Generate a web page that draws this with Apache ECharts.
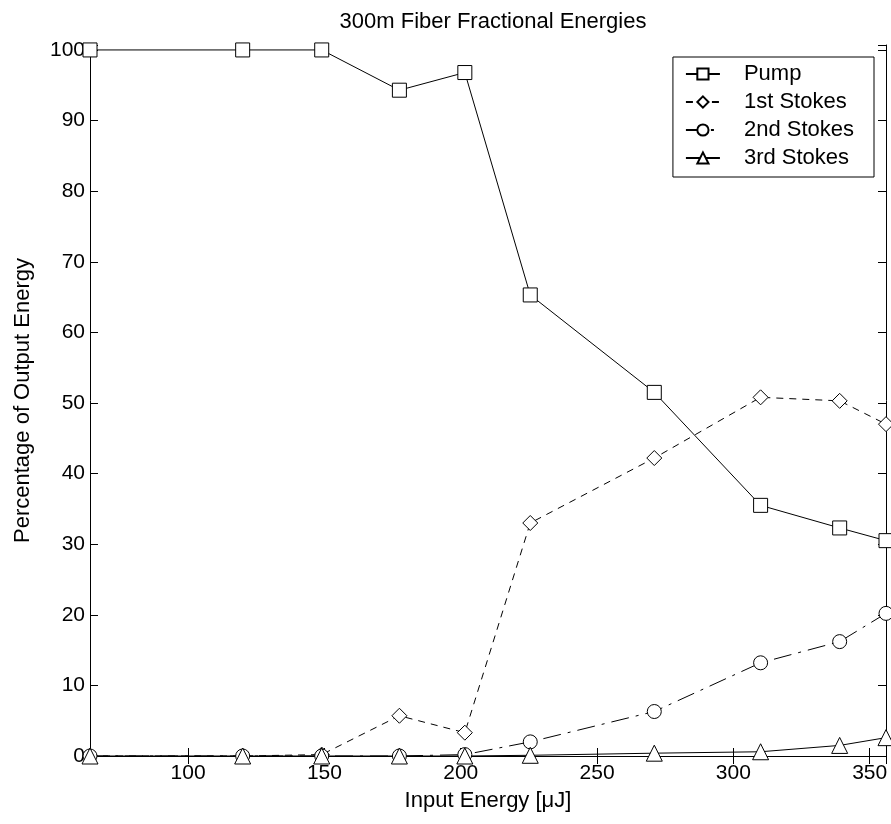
<!DOCTYPE html>
<html>
<head>
<meta charset="utf-8">
<script src="https://cdn.jsdelivr.net/npm/echarts@6/dist/echarts.min.js"></script>
<style>
html,body{margin:0;padding:0;background:#fff;}
#chart{width:891px;height:824px;}
</style>
</head>
<body>
<div id="chart"></div>
<script>
// Input energy (uJ)
const inputEnergy = [64, 120, 149, 177.5, 201.5, 225.5, 271, 310, 339, 356];
const pump        = [100, 100, 100, 94.3, 96.8, 65.3, 51.5, 35.5, 32.3, 30.5];
const stokes1     = [0, 0, 0.2, 5.7, 3.3, 33.0, 42.2, 50.8, 50.3, 47.0];
const stokes2     = [0, 0, 0, 0, 0.2, 2.0, 6.3, 13.2, 16.2, 20.2];
const stokes3     = [0, 0, 0, 0, 0, 0.1, 0.4, 0.6, 1.5, 2.6];
const seriesNames = ['Pump', '1st Stokes', '2nd Stokes', '3rd Stokes'];
const xTicks = [100, 150, 200, 250, 300, 350];
const yTicks = [0, 10, 20, 30, 40, 50, 60, 70, 80, 90, 100];

const FONT = 'Liberation Sans, Arial, sans-serif';
const pair = arr => inputEnergy.map((x, i) => [x, arr[i]]);

const xMin = 64, xMax = 356, yMin = 0, yMax = 100.7;

function mk(name, data, symbol, size, lineType) {
  return {
    name, type: 'line', data: pair(data),
    symbol, symbolSize: size, showSymbol: true,
    lineStyle: { color: '#000', width: 1, type: lineType },
    itemStyle: { color: '#fff', borderColor: '#000', borderWidth: 1 },
    emphasis: { disabled: true },
    animation: false, z: 3
  };
}

const chart = echarts.init(document.getElementById('chart'), null, { renderer: 'canvas' });
chart.setOption({
  backgroundColor: '#fff',
  animation: false,
  title: {
    text: '300m Fiber Fractional Energies',
    left: 488, top: 6, textAlign: 'center',
    textStyle: { fontFamily: FONT, fontSize: 22, fontWeight: 'normal', color: '#000' }
  },
  legend: {
    data: seriesNames,
    orient: 'vertical',
    right: 17, top: 57,
    backgroundColor: '#fff',
    borderColor: '#000', borderWidth: 1, borderRadius: 0,
    padding: [6, 20, 8, 12],
    itemGap: 6,
    itemWidth: 34, itemHeight: 14,
    textStyle: { fontFamily: FONT, fontSize: 22, lineHeight: 22, color: '#000', padding: [0, 0, 0, 19] }
  },
  grid: { left: 90, right: 5, top: 45, bottom: 68, containLabel: false },
  xAxis: [{
    type: 'value', min: xMin, max: xMax, splitNumber: 6,
    name: 'Input Energy [\u03bcJ]', nameLocation: 'middle', nameGap: 34,
    nameTextStyle: { fontFamily: FONT, fontSize: 22, color: '#000' },
    axisLine: { lineStyle: { color: '#000', width: 1 } },
    axisTick: { inside: true, length: 8, lineStyle: { color: '#000' } },
    axisLabel: {
      fontFamily: FONT, fontSize: 21, color: '#000', margin: 7,
      formatter: v => (xTicks.indexOf(v) >= 0 ? String(v) : '')
    },
    splitLine: { show: false }
  }, {
    type: 'value', min: xMin, max: xMax, splitNumber: 6, position: 'top',
    axisLine: { lineStyle: { color: '#000', width: 1 } },
    axisTick: { inside: true, length: 8, lineStyle: { color: '#000' } },
    axisLabel: { show: false }, splitLine: { show: false }
  }],
  yAxis: [{
    type: 'value', min: yMin, max: yMax, interval: 10,
    name: 'Percentage of Output Energy', nameLocation: 'middle', nameGap: 56,
    nameTextStyle: { fontFamily: FONT, fontSize: 22, color: '#000' },
    axisLine: { lineStyle: { color: '#000', width: 1 } },
    axisTick: { inside: true, length: 8, lineStyle: { color: '#000' } },
    axisLabel: {
      fontFamily: FONT, fontSize: 21, color: '#000', margin: 5,
      formatter: v => (yTicks.indexOf(v) >= 0 ? String(v) : '')
    },
    splitLine: { show: false }
  }, {
    type: 'value', min: yMin, max: yMax, interval: 10, position: 'right',
    axisLine: { lineStyle: { color: '#000', width: 1 } },
    axisTick: { inside: true, length: 8, lineStyle: { color: '#000' } },
    axisLabel: { show: false }, splitLine: { show: false }
  }],
  series: [
    mk(seriesNames[0], pump, 'rect', 14, 'solid'),
    mk(seriesNames[1], stokes1, 'diamond', 15, [7, 6]),
    mk(seriesNames[2], stokes2, 'circle', 14, [18, 7, 3, 7]),
    mk(seriesNames[3], stokes3, 'triangle', 16, 'solid')
  ]
});
</script>
</body>
</html>
